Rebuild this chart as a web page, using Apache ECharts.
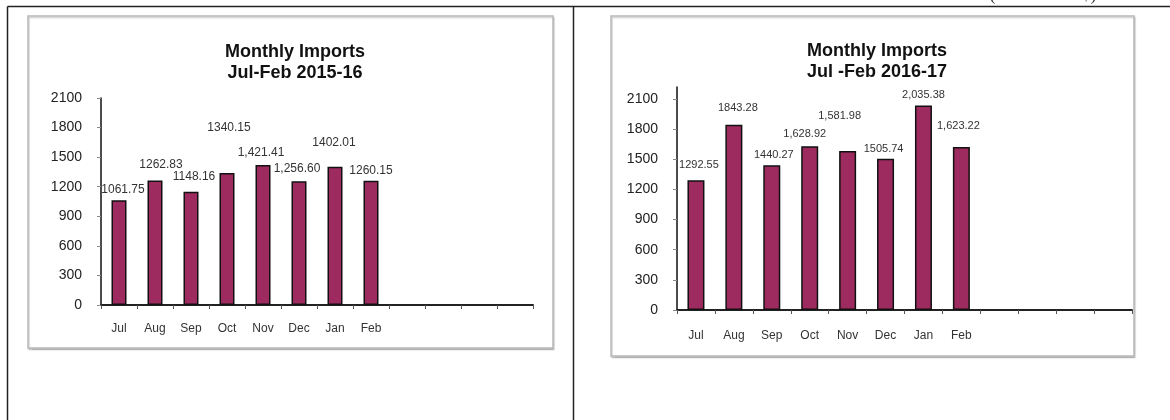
<!DOCTYPE html>
<html>
<head>
<meta charset="utf-8">
<script src="https://cdn.jsdelivr.net/npm/echarts@6/dist/echarts.min.js"></script>
<style>
html,body{margin:0;padding:0;background:#fff;}
#c{width:1170px;height:420px;}
</style>
</head>
<body>
<div id="c"></div>
<script>
// ---- data ----
var months = ['Jul','Aug','Sep','Oct','Nov','Dec','Jan','Feb','','','',''];
var imports2015 = [1061.75, 1262.83, 1148.16, 1340.15, 1421.41, 1256.60, 1402.01, 1260.15];
var imports2016 = [1292.55, 1843.28, 1440.27, 1628.92, 1581.98, 1505.74, 2035.38, 1623.22];
var labels2015 = ['1061.75','1262.83','1148.16','1340.15','1,421.41','1,256.60','1402.01','1260.15'];
var labels2016 = ['1292.55','1843.28','1440.27','1,628.92','1,581.98','1505.74','2,035.38','1,623.22'];
var yTicks = [0, 300, 600, 900, 1200, 1500, 1800, 2100];
var title2015 = 'Monthly Imports\nJul-Feb 2015-16';
var title2016 = 'Monthly Imports\nJul -Feb 2016-17';
var unitText = '(Million US $)';

// label placement nudges (Excel hand-placed labels)
var offsets2015 = [[4,-5],[6,-10],[3,-9],[2,-39],[-2,-6],[-2,-6],[-1,-18],[0,-4]];
var offsets2016 = [[3,-10],[4,-11],[2,-5],[-5,-7],[-8,-30],[-2,-4],[0,-5],[-3,-15]];

var barColor = '#9e2b5f';
var font = 'Liberation Sans, Arial, sans-serif';

function buildData(vals, labs, offs, fs) {
  return vals.map(function (v, i) {
    return {
      value: v,
      label: { formatter: labs[i], offset: offs[i], fontSize: fs }
    };
  });
}

function xAxisCfg(gi, margin) {
  return {
    type: 'category', gridIndex: gi, data: months,
    axisLine: { lineStyle: { color: '#222', width: 2 } },
    axisTick: { show: true, length: 4, inside: false, lineStyle: { color: '#555', width: 1 } },
    axisLabel: { margin: margin, fontFamily: font, fontSize: 12, color: '#333', interval: 0 },
    splitLine: { show: false }
  };
}
function yAxisCfg(gi, max) {
  return {
    type: 'value', gridIndex: gi, min: 0, max: max, interval: 300,
    axisLine: { show: true, lineStyle: { color: '#111', width: 1.5 } },
    axisTick: { show: true, length: 4, customValues: yTicks, lineStyle: { color: '#888', width: 1 } },
    axisLabel: { margin: 19, fontFamily: font, fontSize: 14, color: '#222', customValues: yTicks,
      formatter: function (v) { return String(v); } },
    splitLine: { show: false }
  };
}

var chart = echarts.init(document.getElementById('c'), null, { renderer: 'canvas' });
chart.setOption({
  animation: false,
  backgroundColor: '#fff',
  graphic: [
    { type: 'line', z: -5, shape: { x1: 7.5, y1: 6.5, x2: 1170, y2: 6.5 }, style: { stroke: '#222', lineWidth: 1.5 } },
    { type: 'line', z: -5, shape: { x1: 7.5, y1: 6.5, x2: 7.5, y2: 420 }, style: { stroke: '#222', lineWidth: 1.5 } },
    { type: 'line', z: -5, shape: { x1: 573.5, y1: 6.5, x2: 573.5, y2: 420 }, style: { stroke: '#222', lineWidth: 1.5 } },
    { type: 'rect', z: -10, shape: { x: 28, y: 16, width: 525, height: 332 },
      style: { fill: '#fff', stroke: '#b8b8b8', lineWidth: 1.5, shadowBlur: 1, shadowOffsetX: 1, shadowOffsetY: 1.5, shadowColor: 'rgba(0,0,0,0.18)' } },
    { type: 'rect', z: -10, shape: { x: 611, y: 16, width: 523, height: 340 },
      style: { fill: '#fff', stroke: '#b8b8b8', lineWidth: 1.5, shadowBlur: 1, shadowOffsetX: 1, shadowOffsetY: 1.5, shadowColor: 'rgba(0,0,0,0.18)' } },
    { type: 'text', z: 5, x: 1043, y: -5,
      style: { text: unitText, fontFamily: 'Liberation Serif, Times New Roman, serif', fontSize: 18, fill: '#333', align: 'center', verticalAlign: 'middle' } }
  ],
  title: [
    { text: title2015, left: 290, top: 37, textAlign: 'center',
      textStyle: { fontFamily: font, fontSize: 18, fontWeight: 'bold', color: '#111', lineHeight: 21 } },
    { text: title2016, left: 872, top: 36, textAlign: 'center',
      textStyle: { fontFamily: font, fontSize: 18, fontWeight: 'bold', color: '#111', lineHeight: 21 } }
  ],
  grid: [
    { left: 101, right: 637, top: 98, bottom: 115, containLabel: false },
    { left: 677, right: 38, top: 87, bottom: 110, containLabel: false }
  ],
  xAxis: [ xAxisCfg(0, 18), xAxisCfg(1, 20) ],
  yAxis: [ yAxisCfg(0, 2100), yAxisCfg(1, 2220) ],
  series: [
    { type: 'bar', xAxisIndex: 0, yAxisIndex: 0, barWidth: 15,
      data: buildData(imports2015, labels2015, offsets2015, 12),
      itemStyle: { color: barColor, borderColor: '#111', borderWidth: 1.5 },
      label: { show: true, position: 'top', distance: 0, fontFamily: font, color: '#333' } },
    { type: 'bar', xAxisIndex: 1, yAxisIndex: 1, barWidth: 17,
      data: buildData(imports2016, labels2016, offsets2016, 11),
      itemStyle: { color: barColor, borderColor: '#111', borderWidth: 1.5 },
      label: { show: true, position: 'top', distance: 0, fontFamily: font, color: '#333' } }
  ]
});
</script>
</body>
</html>
